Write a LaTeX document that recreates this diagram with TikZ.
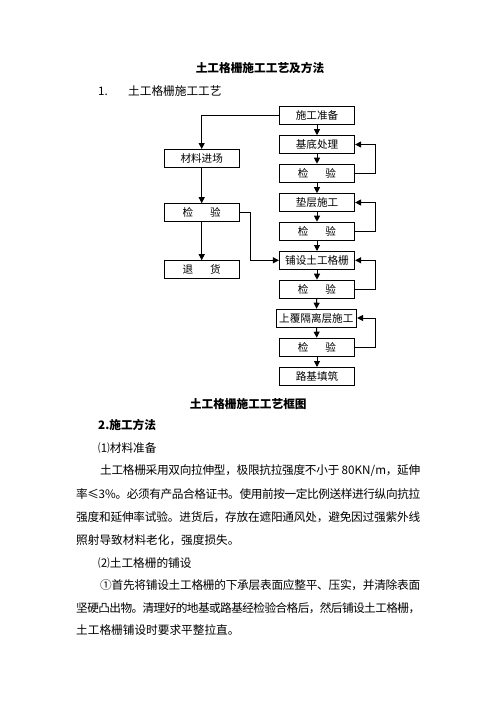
\documentclass[tikz,border=0pt]{standalone}
\usepackage{fontspec}
\setmainfont{Noto Sans CJK SC}
\usetikzlibrary{arrows.meta}
\newXeTeXintercharclass\mycjk
\newcount\mycnt
\mycnt="4E00
\loop
  \XeTeXcharclass\mycnt=\mycjk
  \ifnum\mycnt<"9FFF \advance\mycnt by 1
\repeat
\XeTeXcharclass"3001=\mycjk
\XeTeXcharclass"3002=\mycjk
\XeTeXcharclass"FF0C=\mycjk
\XeTeXcharclass"2474=\mycjk
\XeTeXcharclass"2475=\mycjk
\XeTeXcharclass"2460=\mycjk
\XeTeXcharclass"2264=\mycjk
\XeTeXinterchartoks\mycjk\mycjk={\hskip0pt plus 0.3em minus 0.08em\relax}
\XeTeXinterchartoks\mycjk 0={\hskip0pt plus 0.3em minus 0.08em\relax}
\XeTeXinterchartoks 0\mycjk={\hskip0pt plus 0.3em minus 0.08em\relax}
\begin{document}
\XeTeXinterchartokenstate=1
\begin{tikzpicture}[x=1pt,y=-1pt,
  box/.style={draw, line width=0.8pt, minimum width=75.4pt, minimum height=17.8pt,
    inner sep=0pt, text height=9.3pt, text depth=1.3pt, font=\fontsize{10.6}{12}\selectfont},
  conn/.style={line width=1pt, -{Triangle[length=6pt,width=6pt]}},
  txt/.style={anchor=west, inner sep=0pt, text height=10.3pt, text depth=1.4pt,
    font=\fontsize{11.67}{14}\selectfont},
  btxt/.style={txt, font=\fontsize{11.67}{14}\selectfont\bfseries}]
\fill[white] (0,0) rectangle (496,702);
\useasboundingbox (0,0) rectangle (496,702);
% headings
\node[btxt,anchor=center] (title) at (260,68) {土工格栅施工工艺及方法};
\node[txt] (s1n) at (98,91) {1.};
\node[txt] (s1) at (128,91) {土工格栅施工工艺};
% flowchart right column
\node[box] (n1) at (317,115) {施工准备};
\node[box] (n2) at (317,144.5) {基底处理};
\node[box] (n3) at (317,173) {检\hspace{1.6em}验};
\node[box] (n4) at (317,202.5) {垫层施工};
\node[box] (n5) at (317,231) {检\hspace{1.6em}验};
\node[box] (n6) at (317,260.3) {铺设土工格栅};
\node[box] (n7) at (317,289) {检\hspace{1.6em}验};
\node[box,minimum width=80.7pt] (n8) at (316.3,318) {上覆隔离层施工};
\node[box] (n9) at (317,347) {检\hspace{1.6em}验};
\node[box] (n10) at (317,376.3) {路基填筑};
% left column
\node[box] (m1) at (201.7,158.3) {材料进场};
\node[box] (m2) at (201.7,212.5) {检\hspace{1.6em}验};
\node[box] (m3) at (201.7,269.5) {退\hspace{1.6em}货};
\coordinate (loopx) at (375,0);
\coordinate (jx) at (250,0);
% connectors
\draw[conn] (n1.west) -| (m1.north);
\draw[conn] (m1) -- (m2);
\draw[conn] (m2) -- (m3);
\draw[conn] (m2.east) -- (m2.east -| jx) |- (n6.west);
\foreach \a/\b in {n1/n2,n2/n3,n3/n4,n4/n5,n5/n6,n6/n7,n7/n8,n8/n9,n9/n10}
  \draw[conn] (\a) -- (\b);
\draw[conn] (n3.east) -- (n3.east -| loopx) |- (n2.east);
\draw[conn] (n5.east) -- (n5.east -| loopx) |- (n4.east);
\draw[conn] (n7.east) -- (n7.east -| loopx) |- (n6.east);
\draw[conn] (n9.east) -- (n9.east -| loopx) |- (n8.east);
% caption and body
\node[btxt,anchor=center] (cap) at (248.3,404) {土工格栅施工工艺框图};
\node[btxt] (s2) at (98,425) {2.施工方法};
\node[txt] (p1) at (98,448) {⑴材料准备};
\node[txt] (l1) at (100,470) {\hbox to 320pt{土工格栅采用双向拉伸型，极限抗拉强度不小于 80KN/m，延伸}};
\node[txt] (l2) at (76,494) {\hbox to 344pt{率≤3\%。必须有产品合格证书。使用前按一定比例送样进行纵向抗拉}};
\node[txt] (l3) at (76,517) {\hbox to 344pt{强度和延伸率试验。进货后，存放在遮阳通风处，避免因过强紫外线}};
\node[txt] (l4) at (76,540) {照射导致材料老化，强度损失。};
\node[txt] (p2) at (98,563) {⑵土工格栅的铺设};
\node[txt] (l5) at (100,585) {\hbox to 320pt{①首先将铺设土工格栅的下承层表面应整平、压实，并清除表面}};
\node[txt] (l6) at (76,608) {\hbox to 344pt{坚硬凸出物。清理好的地基或路基经检验合格后，然后铺设土工格栅，}};
\node[txt] (l7) at (76,630) {土工格栅铺设时要求平整拉直。};
\end{tikzpicture}
\end{document}
